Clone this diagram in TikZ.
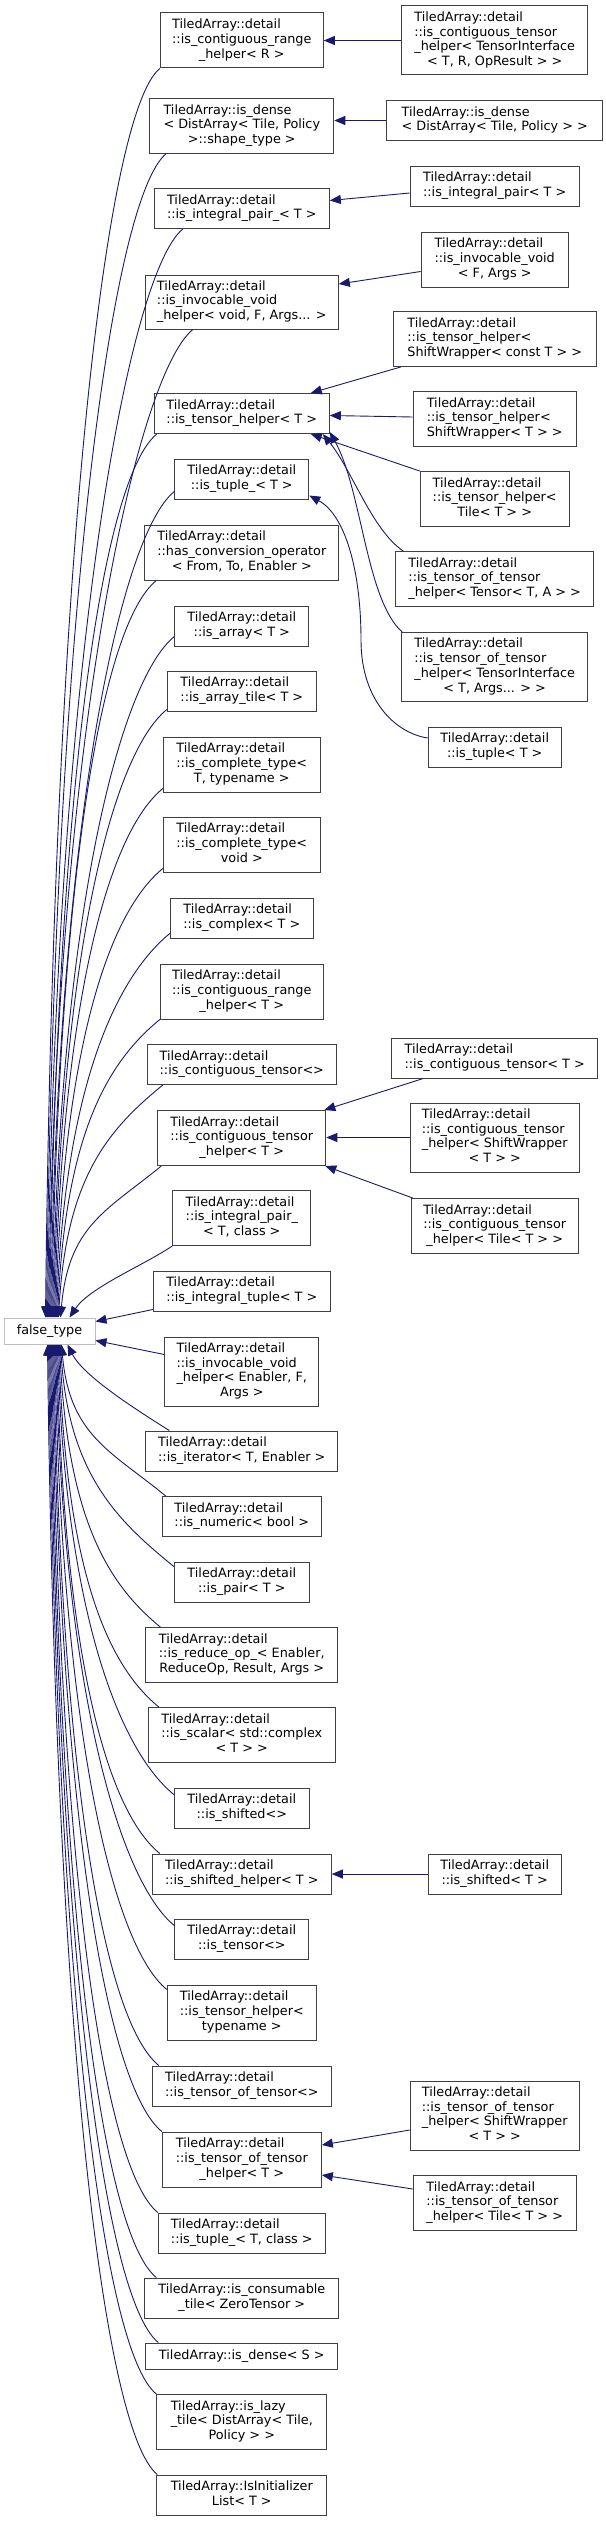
\documentclass[tikz,border=0pt]{standalone}
\usepackage{fontspec}
\setmainfont{DejaVu Sans}
\usetikzlibrary{arrows.meta,calc}
\definecolor{boxgray}{HTML}{404040}
\definecolor{ftgray}{HTML}{BFBFBF}
\definecolor{edgeblue}{HTML}{191970}
\newcommand\lb[2]{\begin{tabular}{@{}l@{}}#1\\\multicolumn{1}{@{}c@{}}{#2}\end{tabular}}
\newcommand\mybox[6]{\node[box,minimum width=#4pt,minimum height=#5pt] (#1) at (#2,#3) {#6};}
\tikzset{
  box/.style={draw=boxgray, fill=white, line width=1pt, inner sep=0pt,
    font=\fontsize{12.8}{14.8}\selectfont},
  ftbox/.style={draw=ftgray, fill=white, line width=1pt, inner sep=0pt,
    font=\fontsize{12.8}{14.8}\selectfont},
  edge/.style={draw=edgeblue, line width=0.9pt, -{Triangle[length=11pt,width=9pt]}}
}
\begin{document}
\begin{tikzpicture}[x=1pt,y=-1pt]
\fill[white] (0,0) rectangle (605,2521);
\useasboundingbox (0,0) rectangle (605,2521);
% left column
\mybox{a1}{241.8}{40.5}{163}{55}{\lb{TiledArray::detail\\::is\_contiguous\_range}{\_helper< R >}}
\mybox{a2}{241.8}{126}{184}{54}{\lb{TiledArray::is\_dense\\< DistArray< Tile, Policy}{>::shape\_type >}}
\mybox{a3}{241.8}{208.5}{175}{40}{\lb{TiledArray::detail}{::is\_integral\_pair\_< T >}}
\mybox{a4}{241.8}{302}{193}{54}{\lb{TiledArray::detail\\::is\_invocable\_void}{\_helper< void, F, Args... >}}
\mybox{a5}{241.8}{413.5}{175}{40}{\lb{TiledArray::detail}{::is\_tensor\_helper< T >}}
\mybox{a6}{241.8}{479}{134}{40}{\lb{TiledArray::detail}{::is\_tuple\_< T >}}
\mybox{a7}{241.8}{552.5}{194}{55}{\lb{TiledArray::detail\\::has\_conversion\_operator}{< From, To, Enabler >}}
\mybox{a8}{241.8}{626}{134}{40}{\lb{TiledArray::detail}{::is\_array< T >}}
\mybox{a9}{241.8}{691}{149}{40}{\lb{TiledArray::detail}{::is\_array\_tile< T >}}
\mybox{a10}{241.8}{764.5}{157}{55}{\lb{TiledArray::detail\\::is\_complete\_type<}{T, typename >}}
\mybox{a11}{241.8}{844.5}{157}{55}{\lb{TiledArray::detail\\::is\_complete\_type<}{void >}}
\mybox{a12}{241.8}{918}{143}{40}{\lb{TiledArray::detail}{::is\_complex< T >}}
\mybox{a13}{241.8}{991.5}{163}{55}{\lb{TiledArray::detail\\::is\_contiguous\_range}{\_helper< T >}}
\mybox{a14}{241.8}{1064.5}{189}{40}{\lb{TiledArray::detail}{::is\_contiguous\_tensor<>}}
\mybox{a15}{241.8}{1138}{168}{55}{\lb{TiledArray::detail\\::is\_contiguous\_tensor}{\_helper< T >}}
\mybox{a16}{241.8}{1218}{138}{55}{\lb{TiledArray::detail\\::is\_integral\_pair\_}{< T, class >}}
\mybox{a17}{241.8}{1291}{177}{40}{\lb{TiledArray::detail}{::is\_integral\_tuple< T >}}
\node[ftbox, minimum width=91pt, minimum height=26pt] (ft) at (49.5,1331) {false\_type};
\mybox{a18}{241.8}{1371.5}{154}{69}{\lb{TiledArray::detail\\::is\_invocable\_void\\\_helper< Enabler, F,}{Args >}}
\mybox{a19}{241.8}{1451}{192}{40}{\lb{TiledArray::detail}{::is\_iterator< T, Enabler >}}
\mybox{a20}{241.8}{1516.5}{159}{40}{\lb{TiledArray::detail}{::is\_numeric< bool >}}
\mybox{a21}{241.8}{1582}{135}{40}{\lb{TiledArray::detail}{::is\_pair< T >}}
\mybox{a22}{241.8}{1655}{192}{55}{\lb{TiledArray::detail\\::is\_reduce\_op\_< Enabler,}{ReduceOp, Result, Args >}}
\mybox{a23}{241.8}{1735}{187}{55}{\lb{TiledArray::detail\\::is\_scalar< std::complex}{< T > >}}
\mybox{a24}{241.8}{1808}{135}{40}{\lb{TiledArray::detail}{::is\_shifted<>}}
\mybox{a25}{241.8}{1874}{179}{40}{\lb{TiledArray::detail}{::is\_shifted\_helper< T >}}
\mybox{a26}{241.8}{1939}{134}{40}{\lb{TiledArray::detail}{::is\_tensor<>}}
\mybox{a27}{241.8}{2012.5}{149}{55}{\lb{TiledArray::detail\\::is\_tensor\_helper<}{typename >}}
\mybox{a28}{241.8}{2086}{179}{40}{\lb{TiledArray::detail}{::is\_tensor\_of\_tensor<>}}
\mybox{a29}{241.8}{2159.5}{159}{55}{\lb{TiledArray::detail\\::is\_tensor\_of\_tensor}{\_helper< T >}}
\mybox{a30}{241.8}{2233}{167}{40}{\lb{TiledArray::detail}{::is\_tuple\_< T, class >}}
\mybox{a31}{241.8}{2298}{194}{40}{\lb{TiledArray::is\_consumable}{\_tile< ZeroTensor >}}
\mybox{a32}{241.8}{2356}{192}{26}{TiledArray::is\_dense< S >}
\mybox{a33}{241.8}{2422}{170}{55}{\lb{TiledArray::is\_lazy\\\_tile< DistArray< Tile,}{Policy > >}}
\mybox{a34}{241.8}{2495}{170}{40}{\lb{TiledArray::IsInitializer}{List< T >}}
% right column
\mybox{r1}{494.7}{40.5}{186}{69}{\lb{TiledArray::detail\\::is\_contiguous\_tensor\\\_helper< TensorInterface}{< T, R, OpResult > >}}
\mybox{r2}{494.7}{120.5}{216}{40}{\lb{TiledArray::is\_dense}{< DistArray< Tile, Policy > >}}
\mybox{r3}{494.7}{186}{169}{40}{\lb{TiledArray::detail}{::is\_integral\_pair< T >}}
\mybox{r4}{494.7}{259.5}{147}{55}{\lb{TiledArray::detail\\::is\_invocable\_void}{< F, Args >}}
\mybox{r5a}{494.7}{339}{203}{55}{\lb{TiledArray::detail\\::is\_tensor\_helper<}{ShiftWrapper< const T > >}}
\mybox{r5b}{494.7}{419}{163}{55}{\lb{TiledArray::detail\\::is\_tensor\_helper<}{ShiftWrapper< T > >}}
\mybox{r5c}{494.7}{499}{149}{55}{\lb{TiledArray::detail\\::is\_tensor\_helper<}{Tile< T > >}}
\mybox{r5d}{494.7}{579}{198}{55}{\lb{TiledArray::detail\\::is\_tensor\_of\_tensor}{\_helper< Tensor< T, A > >}}
\mybox{r5e}{494.7}{667}{186}{69}{\lb{TiledArray::detail\\::is\_tensor\_of\_tensor\\\_helper< TensorInterface}{< T, Args... > >}}
\mybox{r6}{494.7}{747}{133}{40}{\lb{TiledArray::detail}{::is\_tuple< T >}}
\mybox{r15a}{494.7}{1058}{206}{40}{\lb{TiledArray::detail}{::is\_contiguous\_tensor< T >}}
\mybox{r15b}{494.7}{1137.5}{169}{69}{\lb{TiledArray::detail\\::is\_contiguous\_tensor\\\_helper< ShiftWrapper}{< T > >}}
\mybox{r15c}{494.7}{1226}{167}{55}{\lb{TiledArray::detail\\::is\_contiguous\_tensor}{\_helper< Tile< T > >}}
\mybox{r25}{494.7}{1874}{133}{40}{\lb{TiledArray::detail}{::is\_shifted< T >}}
\mybox{r29a}{494.7}{2115.5}{169}{69}{\lb{TiledArray::detail\\::is\_tensor\_of\_tensor\\\_helper< ShiftWrapper}{< T > >}}
\mybox{r29b}{494.7}{2203}{163}{55}{\lb{TiledArray::detail\\::is\_tensor\_of\_tensor}{\_helper< Tile< T > >}}
% edges into false_type from above
\foreach \nm/\ax/\ay/\ee/\cy in {a1/0/0/42/-750, a2/17/0/43/-699, a3/29/0/44/-654, a4/48/0/45/-593, a5/3/0/46/-530, a6/0/-8/47/-491, a7/12/0/48/-443, a8/0/-10/49/-403, a9/0/-2/50/-364, a10/0/-4/51/-316, a11/0/-4/52/-268, a12/0/-5/53/-228, a13/0/0/54/-179, a14/16/0/55/-140, a15/4/0/57/-92}
  \draw[edge] ($(\nm.south west)+(\ax,\ay)$) .. controls +(-55,45) and +(8,\cy) .. ($(ft.north west)+(\ee,0)$);
% edges into false_type from below
\foreach \nm/\ax/\ay/\ee/\cy in {a20/4/0/58/91, a21/0/5/57/131, a22/15/0/56/170, a23/11/0/55/218, a24/0/7/54/266, a25/8/0/53/306, a26/0/7/52/345, a27/0/5/51/385, a28/7/0/50/433, a29/0/0/49/473, a30/0/0/48/521, a31/12/0/47/560, a32/13/0/46/599, a33/0/0/45/631, a34/1/0/44/679}
  \draw[edge] ($(\nm.north west)+(\ax,\ay)$) .. controls +(-55,-45) and +(8,\cy) .. ($(ft.south west)+(\ee,0)$);
\draw[edge] (a16.south west) .. controls +(-30,20) and +(20,-30) .. ($(ft.north west)+(66,0)$);
\draw[edge] ($(a17.south west)+(0,-2)$) -- ($(ft.north east)+(0,4)$);
\draw[edge] ($(a18.north west)+(0,18)$) -- ($(ft.south east)+(0,-4)$);
\draw[edge] ($(a19.north west)+(24,0)$) .. controls +(-40,-25) and +(15,30) .. ($(ft.south west)+(64,0)$);
% right-column edges
\draw[edge] (r1.west) -- (a1.east);
\draw[edge] (r2.west) -- (r2.west -| a2.east);
\draw[edge] ($(r3.west)+(0,7)$) -- ($(a3.east)+(0,-8)$);
\draw[edge] ($(r4.west)+(0,12)$) -- ($(a4.east)+(0,-18)$);
\draw[edge] ($(r5a.south west)+(8,0)$) -- ($(a5.north east)+(-19,0)$);
\draw[edge] ($(r5b.west)+(0,-2)$) -- ($(a5.east)+(0,2)$);
\draw[edge] (r5c.north west) -- ($(a5.south east)+(-19,0)$);
\draw[edge] ($(r5d.north west)+(8,0)$) .. controls (372,530) and (352,470) .. ($(a5.south east)+(-7,0)$);
\draw[edge] ($(r5e.north west)+(1,0)$) .. controls (366,600) and (362,490) .. ($(a5.south east)+(0,-2)$);
\coordinate (m6) at (361,640);
\draw[edge] ($(r6.west)+(0,-9)$) .. controls (395,733) and (361,700) .. (m6) .. controls (361,570) and (345,515) .. ($(a6.south east)+(0,-4)$);
\draw[edge] ($(r15a.south west)+(32,0)$) -- ($(a15.north east)+(-2,0)$);
\draw[edge] (r15b.west) -- (r15b.west -| a15.east);
\draw[edge] ($(r15c.north west)+(2,0)$) -- ($(a15.south east)+(-1,0)$);
\draw[edge] (r25.west) -- (a25.east);
\draw[edge] ($(r29a.west)+(0,14.5)$) -- ($(a29.east)+(0,-14.5)$);
\draw[edge] ($(r29b.west)+(0,-14)$) -- ($(a29.east)+(0,15.5)$);
\end{tikzpicture}
\end{document}
